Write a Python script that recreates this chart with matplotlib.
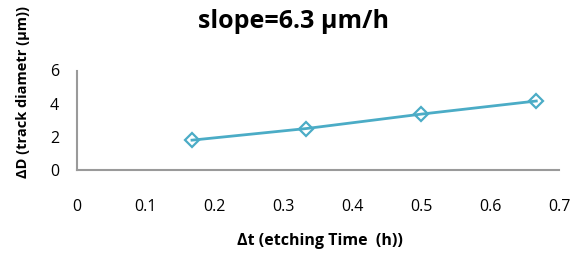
import matplotlib
matplotlib.use("Agg")
import matplotlib.pyplot as plt

plt.rcParams['font.family'] = ['Open Sans', 'DejaVu Sans']

dt = [0.167, 0.333, 0.5, 0.667]
dD = [1.8, 2.5, 3.37, 4.16]
xticks = [0, 0.1, 0.2, 0.3, 0.4, 0.5, 0.6, 0.7]
yticks = [0, 2, 4, 6]

fig = plt.figure(figsize=(5.72, 2.56), dpi=100)
ax = fig.add_axes([77/572, 1-170/256, (559-77)/572, (170-70.5)/256])
ax.plot(dt, dD, color='#4BACC6', lw=2.0, marker='D', ms=7,
        markerfacecolor='none', markeredgecolor='#4BACC6', markeredgewidth=1.6)
ax.set_xlim(0, 0.7)
ax.set_ylim(0, 6)
ax.set_xticks(xticks)
ax.set_xticklabels([f"{v:g}" for v in xticks])
ax.set_yticks(yticks)
for s in ['top', 'right']:
    ax.spines[s].set_visible(False)
for s in ['left', 'bottom']:
    ax.spines[s].set_color('#9a9a9a')
    ax.spines[s].set_linewidth(1.5)
ax.tick_params(axis='x', length=0, pad=21, labelsize=11.5)
ax.tick_params(axis='y', length=0, pad=13, labelsize=11.5)

fig.text(294/572, 1-22/256, 'slope=6.3 µm/h', ha='center', va='center',
         fontsize=18, fontweight='bold')
fig.text(320/572, 1-241/256, 'Δt (etching Time  (h))', ha='center', va='center',
         fontsize=11.5, fontweight='bold')
fig.text(23/572, 1-178/256, 'ΔD (track diametr (µm))', rotation=90,
         ha='center', va='bottom', fontsize=10.5, fontweight='bold')

fig.savefig('out.png', dpi=100)
